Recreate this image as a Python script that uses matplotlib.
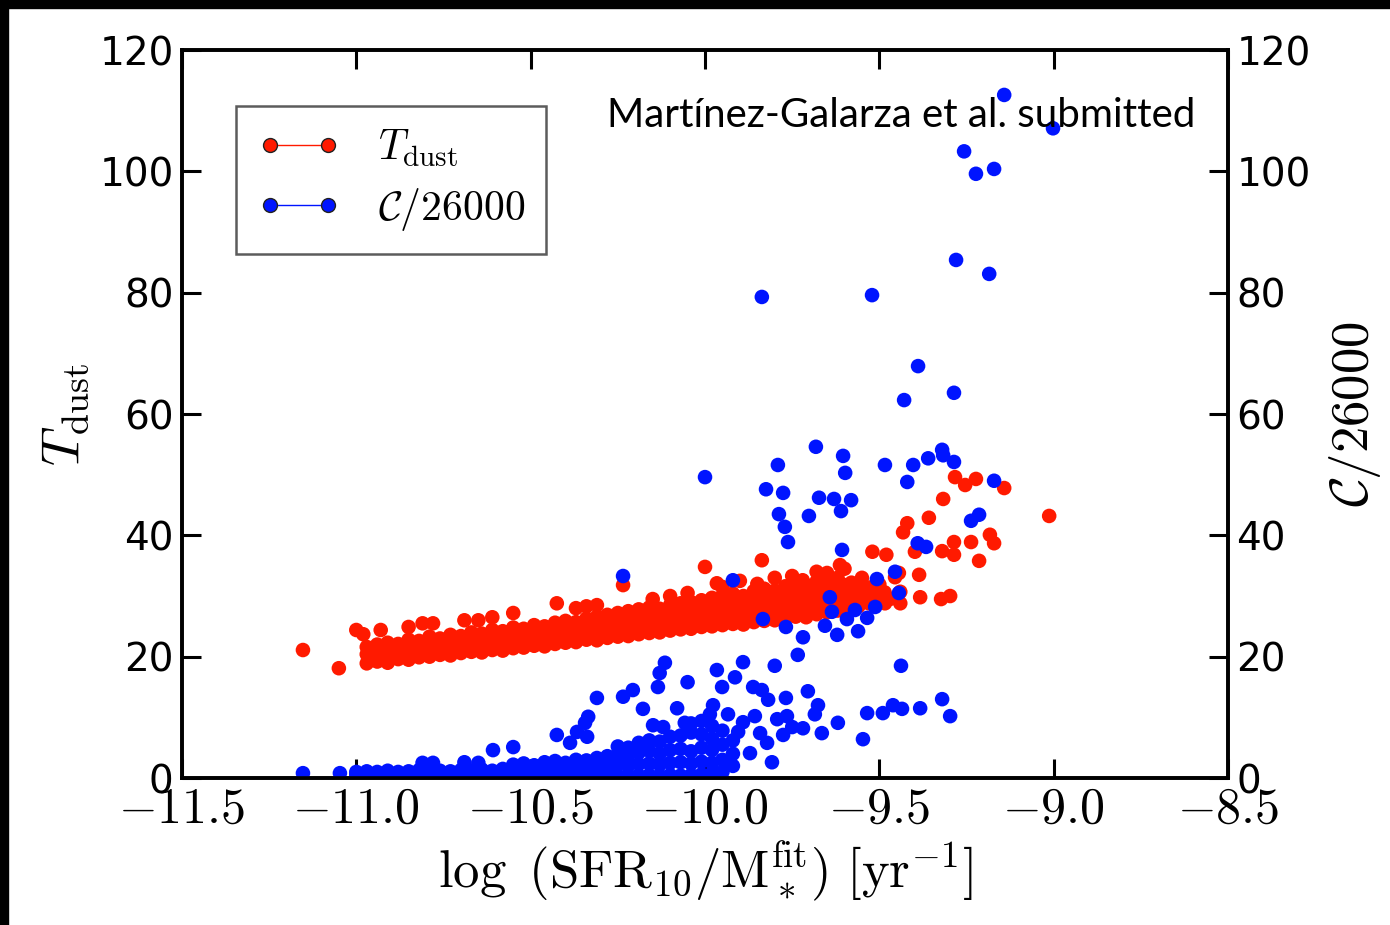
import matplotlib
matplotlib.use('Agg')
import matplotlib.pyplot as plt
from matplotlib.lines import Line2D
from matplotlib.patches import Rectangle

plt.rcParams['mathtext.fontset'] = 'cm'
plt.rcParams['font.family'] = ['DejaVu Sans']

RED = '#ff1a00'
BLUE = '#0014ff'

# T_dust, dense band: one list of y values per x column
tdust_band_x = [-10.97, -10.94, -10.91, -10.88, -10.85, -10.82, -10.79, -10.76, -10.73, -10.70,
                -10.67, -10.64, -10.61, -10.58, -10.55, -10.52, -10.49, -10.46, -10.43, -10.40,
                -10.37, -10.34, -10.31, -10.28, -10.25, -10.22, -10.19, -10.16, -10.13, -10.10,
                -10.07, -10.04, -10.01, -9.98, -9.95, -9.92, -9.89, -9.86, -9.83, -9.80,
                -9.77, -9.74, -9.71, -9.68, -9.65, -9.62, -9.59, -9.56, -9.53, -9.50, -9.47]
tdust_band_y = [[18.9, 20.4, 21.6], [19.2, 20.9, 22.0], [19.0, 20.6, 22.3], [19.6, 21.0, 22.1],
                [19.5, 21.3, 22.8], [19.9, 21.2, 22.6], [20.0, 21.7, 23.3], [20.3, 21.5, 23.0],
                [20.2, 22.0, 23.6], [20.6, 21.9, 23.4], [20.8, 22.4, 24.0], [20.7, 22.2, 23.8],
                [21.1, 22.7, 24.4], [21.0, 22.6, 24.2], [21.4, 23.0, 24.8], [21.5, 23.2, 24.6],
                [21.8, 23.4, 25.2], [21.7, 23.6, 25.0], [22.1, 23.8, 25.6], [22.3, 24.0, 25.9],
                [22.4, 24.3, 25.7], [22.8, 24.5, 26.3], [22.7, 24.6, 26.6], [23.1, 25.0, 26.9],
                [23.3, 25.1, 27.2], [23.4, 25.5, 27.5], [23.7, 25.6, 27.8], [23.9, 26.0, 28.1],
                [24.0, 26.2, 27.9], [24.3, 26.4, 28.5], [24.5, 26.7, 28.8], [24.6, 26.9, 29.0],
                [24.9, 27.1, 29.3], [25.0, 27.4, 29.7], [25.2, 27.5, 30.1], [25.4, 27.9, 30.4],
                [25.3, 28.0, 30.0], [25.7, 28.3, 30.8], [25.9, 28.6, 31.2], [26.0, 28.5, 30.9],
                [26.4, 29.0, 31.6], [26.6, 29.2, 32.0], [26.5, 29.5, 31.8], [27.0, 29.8, 32.4],
                [27.3, 30.0, 32.8], [27.6, 30.3, 33.0], [28.0, 30.6], [28.3, 31.0],
                [28.8, 31.4], [29.2, 31.9], [29.5]]
# T_dust, points lying between the columns above
tdust_fill_x = [-10.955, -10.925, -10.895, -10.865, -10.835, -10.805, -10.775, -10.745, -10.715,
                -10.685, -10.655, -10.625, -10.595, -10.565, -10.535, -10.505, -10.475, -10.445,
                -10.415, -10.385, -10.355, -10.325, -10.295, -10.265, -10.235, -10.205, -10.175,
                -10.145, -10.115, -10.085, -10.055, -10.025, -9.995, -9.965, -9.935, -9.905,
                -9.875, -9.845, -9.815, -9.785, -9.755, -9.725, -9.695, -9.665, -9.635, -9.605,
                -9.575, -9.545, -9.515, -9.485]
tdust_fill_y = [[19.7, 21.2], [19.9, 21.5], [20.0, 21.4], [20.3, 21.9], [20.6, 22.0],
                [20.7, 22.4], [20.9, 22.3], [21.1, 22.7], [21.3, 22.6], [21.5, 23.2],
                [21.4, 23.0], [21.9, 23.5], [21.8, 23.4], [22.2, 23.9], [22.3, 23.9],
                [22.6, 24.3], [22.7, 24.3], [22.9, 24.7], [23.1, 24.9], [23.3, 25.0],
                [23.6, 25.4], [23.6, 25.6], [24.0, 25.9], [24.2, 26.1], [24.4, 26.5],
                [24.6, 26.7], [24.9, 27.0], [25.1, 27.0], [25.3, 27.4], [25.6, 27.7],
                [25.7, 27.9], [26.0, 28.2], [26.2, 28.5], [26.3, 28.8], [26.6, 29.1],
                [26.6, 29.0], [27.0, 29.5], [27.2, 29.9], [27.2, 29.7], [27.7, 30.3],
                [27.9, 30.6], [28.0, 30.6], [28.4, 31.1], [28.6, 31.4], [28.9, 31.6],
                [29.3, 31.9], [29.6], [30.0], [30.3], [30.6]]
# T_dust, scattered points
tdust_scatter = [(-11.153, 21.1), (-11.05, 18.1), (-11.0, 24.4), (-10.98, 23.7), (-10.93, 24.4),
                 (-10.85, 24.9), (-10.81, 25.5), (-10.78, 25.5), (-10.69, 26.0), (-10.65, 26.0),
                 (-10.61, 26.5), (-10.55, 27.2), (-10.425, 28.8), (-10.37, 28.0), (-10.34, 28.3),
                 (-10.31, 28.5), (-10.235, 31.8), (-10.0, 34.8), (-9.966, 32.1), (-9.837, 35.9),
                 (-9.68, 34.0), (-9.613, 35.1), (-9.52, 37.3), (-9.48, 36.8), (-9.444, 33.8),
                 (-9.455, 33.1), (-9.386, 33.5), (-9.44, 30.7), (-9.383, 29.8), (-9.323, 29.5),
                 (-9.297, 30.0), (-9.49, 29.0), (-9.52, 29.0), (-9.44, 28.8), (-9.484, 28.8),
                 (-9.42, 42.0), (-9.432, 40.5), (-9.358, 42.9), (-9.317, 46.0), (-9.283, 49.6),
                 (-9.254, 48.3), (-9.223, 49.3), (-9.142, 47.8), (-9.398, 37.3), (-9.32, 37.4),
                 (-9.286, 38.9), (-9.286, 36.8), (-9.237, 38.9), (-9.214, 35.8), (-9.183, 40.1),
                 (-9.171, 38.7), (-9.013, 43.2), (-9.95, 31.5), (-9.9, 32.5), (-9.85, 32.0),
                 (-9.8, 33.0), (-9.75, 33.3), (-9.72, 32.6), (-9.65, 33.8), (-9.6, 34.5),
                 (-9.58, 32.2), (-9.55, 33.0), (-10.05, 30.5), (-10.1, 30.0), (-10.15, 29.5)]

# C/26000, dense floor: one list of y values per x column
c_floor_x = [-11.00, -10.97, -10.94, -10.91, -10.88, -10.85, -10.82, -10.79, -10.76, -10.73,
             -10.70, -10.67, -10.64, -10.61, -10.58, -10.55, -10.52, -10.49, -10.46, -10.43,
             -10.40, -10.37, -10.34, -10.31, -10.28, -10.25, -10.22, -10.19, -10.16, -10.13,
             -10.10, -10.07, -10.04, -10.01, -9.98, -9.95, -9.92]
c_floor_y = [[0.5, 1.0], [0.4, 1.1], [0.5, 1.0], [0.4, 1.2], [0.5, 1.0], [0.4, 1.1], [0.5, 1.3],
             [0.4, 1.0], [0.5, 1.2], [0.4, 1.1], [0.5, 1.3], [0.4, 1.2], [0.5, 1.4], [0.4, 1.2],
             [0.5, 1.5], [0.4, 1.3, 2.2], [0.5, 1.4, 2.4], [0.4, 1.5, 2.1], [0.5, 1.6, 2.6],
             [0.4, 1.5, 2.8], [0.5, 1.7, 2.5], [0.4, 1.8, 3.0], [0.5, 1.6, 2.9], [0.4, 1.9, 3.3],
             [0.5, 2.0, 3.6], [0.4, 2.2, 3.9, 5.2], [0.5, 2.1, 3.7, 5.0], [0.4, 2.3, 4.2, 5.8],
             [0.5, 2.4, 4.5, 6.2], [0.4, 2.2, 4.0, 6.0], [0.5, 2.5, 4.6, 6.8],
             [0.4, 2.6, 4.8, 7.0], [0.5, 2.4, 4.4, 7.5, 9.0], [0.6, 2.7, 5.0, 7.2, 9.4],
             [0.8, 2.5, 4.6, 6.5, 8.6], [1.0, 3.0, 5.5, 7.8], [2.0, 4.0, 6.2]]
# C/26000, scattered points
c_scatter = [(-11.153, 0.8), (-11.047, 0.8), (-10.81, 2.5), (-10.78, 2.5), (-10.69, 2.6),
             (-10.65, 2.5), (-10.608, 4.6), (-10.55, 5.1), (-10.425, 7.1), (-10.387, 5.8),
             (-10.367, 7.6), (-10.338, 6.8), (-10.344, 9.1), (-10.335, 10.1), (-10.31, 13.2),
             (-10.235, 13.4), (-10.207, 14.5), (-10.178, 11.4), (-10.149, 8.7), (-10.12, 8.4),
             (-10.135, 15.0), (-10.13, 17.3), (-10.115, 19.0), (-10.08, 11.5), (-10.05, 15.8),
             (-10.058, 9.1), (-9.966, 17.8), (-9.951, 15.0), (-9.977, 12.0), (-9.986, 10.5),
             (-10.235, 33.3), (-10.0, 49.6), (-9.92, 32.6), (-9.762, 38.9), (-9.607, 37.6),
             (-9.507, 32.8), (-9.455, 34.0), (-9.642, 29.8), (-9.636, 27.4), (-9.834, 26.2),
             (-9.768, 24.9), (-9.656, 25.1), (-9.621, 23.6), (-9.593, 26.2), (-9.57, 27.7),
             (-9.535, 26.4), (-9.561, 24.2), (-9.512, 28.2), (-9.719, 23.2), (-9.734, 20.3),
             (-9.891, 19.1), (-9.8, 18.5), (-9.914, 16.6), (-9.862, 15.0), (-9.837, 14.5),
             (-9.819, 12.9), (-9.768, 13.2), (-9.705, 14.3), (-9.676, 12.0), (-9.685, 10.5),
             (-9.934, 10.5), (-9.891, 9.2), (-9.857, 10.2), (-9.793, 9.7), (-9.765, 10.2),
             (-9.75, 8.4), (-9.719, 8.2), (-9.776, 7.1), (-9.905, 7.6), (-9.842, 7.4),
             (-9.822, 5.8), (-9.665, 7.4), (-9.619, 9.1), (-9.547, 6.4), (-9.535, 10.7),
             (-9.49, 10.7), (-9.461, 12.0), (-9.808, 2.6), (-9.871, 4.1),
             (-9.484, 51.6), (-9.403, 51.6), (-9.36, 52.7), (-9.32, 54.1), (-9.317, 53.2),
             (-9.286, 52.1), (-9.42, 48.8), (-9.171, 49.0), (-9.237, 42.4), (-9.214, 43.4),
             (-9.39, 38.7), (-9.366, 38.1), (-9.444, 30.5), (-9.438, 18.5), (-9.32, 13.0),
             (-9.297, 10.2), (-9.383, 11.5), (-9.435, 11.4),
             (-9.142, 112.6), (-9.002, 107.1), (-9.257, 103.3), (-9.223, 99.6), (-9.171, 100.4),
             (-9.28, 85.4), (-9.185, 83.1), (-9.837, 79.3), (-9.521, 79.6), (-9.389, 67.9),
             (-9.429, 62.3), (-9.286, 63.5),
             (-9.682, 54.6), (-9.604, 53.1), (-9.598, 50.3), (-9.791, 51.6), (-9.825, 47.6),
             (-9.776, 47.0), (-9.673, 46.2), (-9.63, 46.0), (-9.581, 45.8), (-9.61, 44.0),
             (-9.702, 43.2), (-9.788, 43.5), (-9.771, 41.4)]

xticks = [-11.5, -11.0, -10.5, -10.0, -9.5, -9.0, -8.5]
yticks = [0, 20, 40, 60, 80, 100, 120]
legend_labels = [r'$T_{\rm dust}$', r'$\mathcal{C}/26000$']
note = 'Martínez-Galarza et al. submitted'


def expand(cols_x, cols_y):
    xs, ys = [], []
    for x, col in zip(cols_x, cols_y):
        for y in col:
            xs.append(x)
            ys.append(y)
    return xs, ys


bx, by = expand(tdust_band_x, tdust_band_y)
fx, fy = expand(tdust_fill_x, tdust_fill_y)
tx = bx + fx + [p[0] for p in tdust_scatter]
ty = by + fy + [p[1] for p in tdust_scatter]
flx, fly = expand(c_floor_x, c_floor_y)
cx = flx + [p[0] for p in c_scatter]
cy = fly + [p[1] for p in c_scatter]

fig = plt.figure(figsize=(13.9, 9.25), dpi=100)
ax = fig.add_axes([0.1309, 0.1589, 0.7526, 0.7870])
ax2 = ax.twinx()

ax.scatter(tx, ty, s=110, color=RED, edgecolors='none', zorder=2)
ax2.scatter(cx, cy, s=110, color=BLUE, edgecolors='none', zorder=2)

for a in (ax, ax2):
    a.set_xlim(-11.5, -8.5)
    a.set_ylim(0, 120)
    a.set_yticks(yticks)
    for sp in a.spines.values():
        sp.set_linewidth(2.6)
    a.tick_params(axis='y', direction='in', length=14, width=2.2, labelsize=28, pad=6)

ax.set_xticks(xticks)
ax.set_xticklabels([r'$%.1f$' % v for v in xticks])
ax.tick_params(axis='x', direction='in', length=14, width=2.2, labelsize=36, pad=5,
               top=True)
ax.set_xlabel(r'$\log\ (\mathrm{SFR}_{10}/\mathrm{M}_*^{\rm fit})\ [\mathrm{yr}^{-1}]$',
              fontsize=38, labelpad=4)
ax.set_ylabel(legend_labels[0], fontsize=39, labelpad=6)
ax2.set_ylabel(legend_labels[1], fontsize=38, labelpad=12)

handles = [Line2D([], [], color=RED, lw=1, marker='o', markersize=10,
                  markerfacecolor=RED, markeredgecolor='#222222', markeredgewidth=1),
           Line2D([], [], color=BLUE, lw=1, marker='o', markersize=10,
                  markerfacecolor=BLUE, markeredgecolor='#222222', markeredgewidth=1)]
leg = ax2.legend(handles, legend_labels, loc='upper left', bbox_to_anchor=(0.052, 0.923),
                 borderaxespad=0, numpoints=2, fontsize=30, fancybox=False,
                 handlelength=2.0, handletextpad=0.9, borderpad=0.5, labelspacing=0.4)
leg.get_frame().set_edgecolor('#333333')
leg.get_frame().set_linewidth(1.8)

fig.text(0.4367, 0.8627, note, fontsize=29, family=['Lato', 'DejaVu Sans'],
         va='baseline', ha='left')

# black strips along the top and left edges of the picture
fig.patches.append(Rectangle((0, 1 - 8 / 925), 1, 8 / 925, transform=fig.transFigure,
                             color='black', zorder=10))
fig.patches.append(Rectangle((0, 0), 8 / 1390, 1, transform=fig.transFigure,
                             color='black', zorder=10))

fig.savefig('out.png', dpi=100)
